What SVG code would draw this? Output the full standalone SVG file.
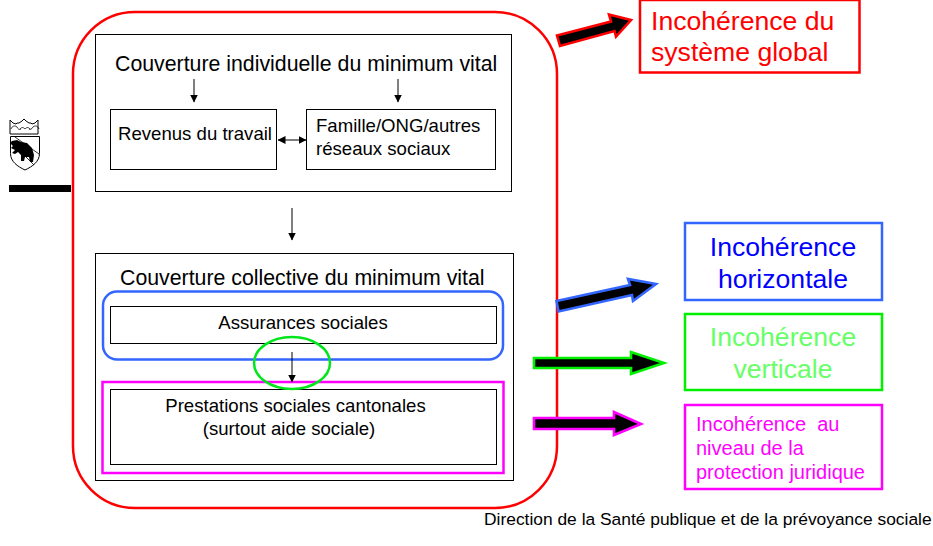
<svg xmlns="http://www.w3.org/2000/svg" width="933" height="546" viewBox="0 0 933 546">
<style>
text{font-family:"Liberation Sans",Arial,sans-serif}
.b{fill:none;stroke:#000;stroke-width:1}
.t20{font-size:21.3px;fill:#000}
.t16{font-size:18.6px;fill:#000}
.l{stroke:#000;stroke-width:1;fill:none}
.big{font-size:26.6px}
.bg{fill:#000;stroke-width:2.6}
.j{font-size:20px;fill:#f0f}
</style>
<defs>
<marker id="ah" markerUnits="userSpaceOnUse" markerWidth="8" markerHeight="9" refX="7.5" refY="4" orient="auto-start-reverse"><path d="M0 0L8 4L0 8z" fill="#000"/></marker>
</defs>
<rect width="933" height="546" fill="#fff"/>
<g id="logo">
<rect x="9" y="185" width="62" height="7" fill="#000"/>
<path d="M10 120l3 3 3 1 1-1 2 0 3-2 2-2 2 2 3 2 2 0 1 1 3-1 3-3 0 14H10z" fill="#fff" stroke="#000" stroke-width="1"/>
<path d="M11 129c1-3 4-4 6-2c1 2 2 3 4 2M20 129c2-2 3-2 5 0c2-2 3-2 5 0M29 129c1 1 3 0 4-2c2-2 5-1 6 2" fill="none" stroke="#000" stroke-width=".8"/>
<path d="M10.500 136.500h29v17c0 8-7 13-14.500 16.500c-7.500-3.500-14.500-8.500-14.500-16.500z" fill="#fff" stroke="#000" stroke-width="1"/>
<path d="M15 137L39 154M11 142L34 165" stroke="#000" stroke-width=".8" fill="none"/>
<path d="M12 141l5-1 4 2 6 1 5 5 2 7-1 7-3 0-1-5-4 0-1 4-3 0 0-6-3-3-3 2-3-1 3-3-4-2 2-2-3-3z" fill="#000"/>
</g>
<g id="outer-frame"><rect x="73" y="12" width="484" height="496" rx="62" ry="62" fill="none" stroke="#f00" stroke-width="2.500"/></g>
<g id="individuelle">
<rect x="95.500" y="34.500" width="416" height="157" class="b"/>
<text x="115" y="71" class="t20">Couverture individuelle du minimum vital</text>
</g>
<g id="revenus">
<rect x="110.500" y="109.500" width="166" height="60" class="b"/>
<text x="118" y="140" class="t16">Revenus du travail</text>
</g>
<g id="famille">
<rect x="306.500" y="109.500" width="189" height="60" class="b"/>
<text x="316" y="132" class="t16">Famille/ONG/autres</text>
<text x="316" y="155" class="t16">réseaux sociaux</text>
</g>
<g id="collective">
<rect x="95.500" y="253.500" width="418" height="227" class="b"/>
<text x="120" y="285" class="t20">Couverture collective du minimum vital</text>
</g>
<g id="assurances-halo"><rect x="103" y="291.500" width="400" height="68" rx="14" ry="14" fill="none" stroke="#3366ff" stroke-width="2.500"/></g>
<g id="assurances">
<rect x="110.500" y="306.500" width="386" height="37" class="b"/>
<text x="303" y="329" text-anchor="middle" class="t16">Assurances sociales</text>
</g>
<g id="prestations-halo"><rect x="102.500" y="382" width="401" height="91" fill="none" stroke="#f0f" stroke-width="2.500"/></g>
<g id="prestations">
<rect x="110.500" y="389.500" width="386" height="75" class="b"/>
<text x="295.500" y="412" text-anchor="middle" class="t16">Prestations sociales cantonales</text>
<text x="289" y="435" text-anchor="middle" class="t16">(surtout aide sociale)</text>
</g>
<g id="ellipse-verticale"><ellipse cx="292" cy="363" rx="38" ry="26" fill="none" stroke="#00e61a" stroke-width="2.500"/></g>
<g id="connectors">
<path d="M194 79V102" class="l" marker-end="url(#ah)"/>
<path d="M398 79V102" class="l" marker-end="url(#ah)"/>
<path d="M278 140H306" class="l" marker-start="url(#ah)" marker-end="url(#ah)"/>
<path d="M292 208V240" class="l" marker-end="url(#ah)"/>
<path d="M292 352V382" class="l" marker-end="url(#ah)"/>
<path d="M557 35.500L611 21.500L609 14.500L631 20L616 36.500L614.500 31L560 46z" class="bg" stroke="#f00"/>
<path d="M556.500 301L630 285L628 279L656 284L633 301L632 295L558.500 311.500z" class="bg" stroke="#3366ff"/>
<path d="M534 358H631V352L664 363L631 374V368H534z" class="bg" stroke="#00f000"/>
<path d="M534 418H614V412L641 424L614 435V429H534z" class="bg" stroke="#f0f"/>
</g>
<g id="global">
<rect x="640" y="0" width="219.500" height="72.500" fill="none" stroke="#f00" stroke-width="2.500"/>
<text x="651" y="30" class="big" fill="#f00">Incohérence du</text>
<text x="651" y="61" class="big" fill="#f00">système global</text>
</g>
<g id="horizontale">
<rect x="685" y="223" width="197" height="77" fill="none" stroke="#3366ff" stroke-width="2.500"/>
<text x="783" y="256" text-anchor="middle" class="big" fill="#00f">Incohérence</text>
<text x="783" y="288" text-anchor="middle" class="big" fill="#00f">horizontale</text>
</g>
<g id="verticale">
<rect x="685" y="314" width="197" height="76" fill="none" stroke="#00f000" stroke-width="2.500"/>
<text x="783" y="346" text-anchor="middle" class="big" fill="#66ff66">Incohérence</text>
<text x="783" y="378" text-anchor="middle" class="big" fill="#66ff66">verticale</text>
</g>
<g id="juridique">
<rect x="685" y="405" width="197" height="84" fill="none" stroke="#f0f" stroke-width="2.500"/>
<text x="696" y="431" class="j" xml:space="preserve">Incohérence  au</text>
<text x="696" y="455" class="j">niveau de la</text>
<text x="696" y="479" class="j">protection juridique</text>
</g>
<g id="footer"><text x="484" y="525" font-size="17.400" fill="#000">Direction de la Santé publique et de la prévoyance sociale</text></g>
</svg>
